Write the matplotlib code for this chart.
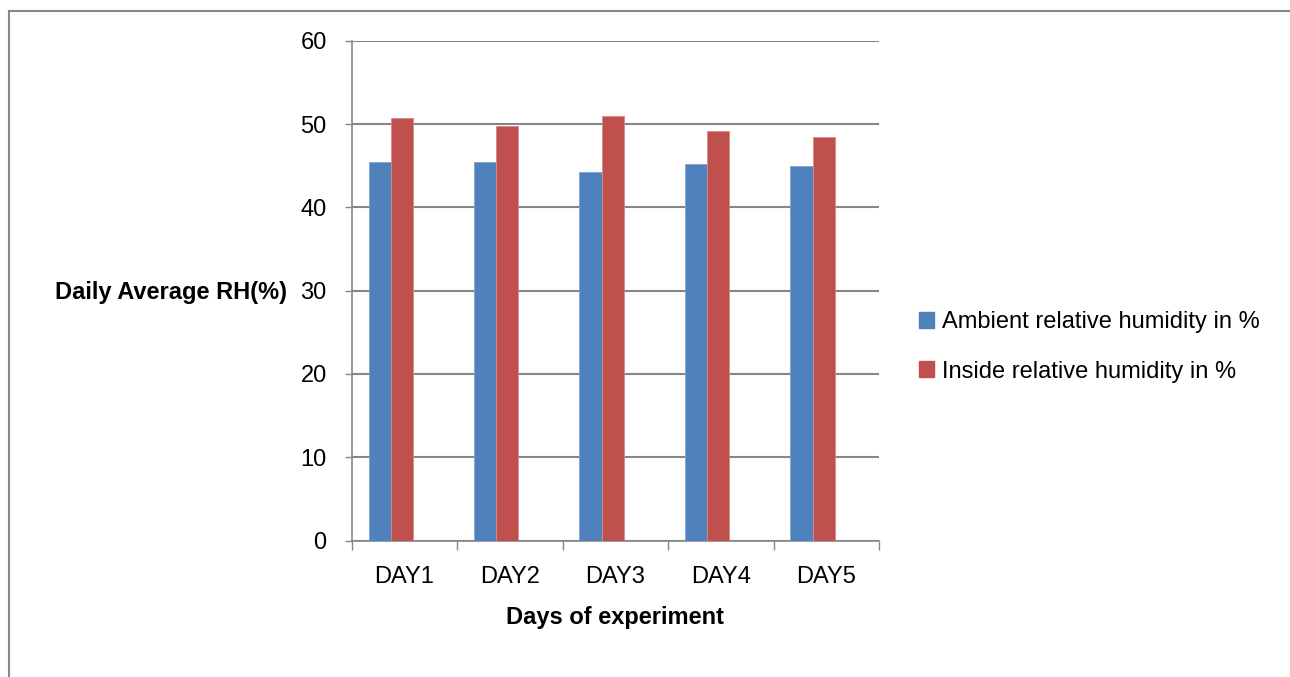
#!/usr/bin/env python

# Daily average relative humidity, ambient v inside, over five days

import numpy
import matplotlib
matplotlib.use('Agg')
import matplotlib.pyplot as plt
from matplotlib.lines import Line2D
from matplotlib.patches import Patch

days = ['DAY1', 'DAY2', 'DAY3', 'DAY4', 'DAY5']
ambient_rh = [45.4, 45.4, 44.2, 45.2, 44.9]
inside_rh = [50.7, 49.8, 51.0, 49.2, 48.4]
series_names = ['Ambient relative humidity in %', 'Inside relative humidity in %']

blue = '#4f81bd'
red = '#c0504d'
grey = '#868686'

plt.rcParams['font.family'] = ['Liberation Sans', 'DejaVu Sans']
plt.rcParams['font.size'] = 17

fig = plt.figure(figsize=(12.9, 6.77), dpi=100, facecolor='white')

# Page frame (left and top edges only)
fig.add_artist(Line2D([9/1290, 9/1290], [0, 1-11/677], transform=fig.transFigure,
                      color=grey, linewidth=1.5))
fig.add_artist(Line2D([9/1290, 1], [1-11/677, 1-11/677], transform=fig.transFigure,
                      color=grey, linewidth=1.5))

ax = fig.add_axes([0.2726, 0.2015, 0.4088, 0.7384])

x = numpy.arange(len(days))
width = 0.21
ax.bar(x - 0.235, ambient_rh, width, color=blue, edgecolor='#7fa3cf',
       linewidth=0.6, zorder=3)
ax.bar(x - 0.025, inside_rh, width, color=red, edgecolor='#d58a88',
       linewidth=0.6, zorder=3)

ax.set_xlim(-0.5, len(days) - 0.5)
ax.set_ylim(0, 60)
ax.set_yticks(range(0, 61, 10))
ax.yaxis.grid(True, color=grey, linewidth=1.5, zorder=1)

# Category boundary ticks, labels in between
ax.set_xticks(numpy.arange(-0.5, len(days)), minor=False)
ax.set_xticklabels([])
ax.set_xticks(x, minor=True)
ax.set_xticklabels(days, minor=True)
ax.tick_params(axis='x', which='major', length=6.5, color=grey, width=1)
ax.tick_params(axis='x', which='minor', length=0, pad=18)
ax.tick_params(axis='y', length=5, color=grey, width=1, pad=13)

for side in ['top', 'right']:
    ax.spines[side].set_visible(False)
for side in ['left', 'bottom']:
    ax.spines[side].set_color(grey)
    ax.spines[side].set_linewidth(1.2)

ax.set_xlabel('Days of experiment', fontweight='bold', labelpad=13)
fig.text(287/1290, 1-292/677, 'Daily Average RH(%)', fontweight='bold',
         ha='right', va='center')

handles = [Patch(color=blue), Patch(color=red)]
fig.legend(handles, series_names, loc='center left',
           bbox_to_anchor=(907/1290, 1-347/677), frameon=False,
           borderpad=0, handlelength=0.65, handleheight=0.65,
           handletextpad=0.35, labelspacing=1.15)

fig.savefig('out.png', dpi=100, facecolor='white')
